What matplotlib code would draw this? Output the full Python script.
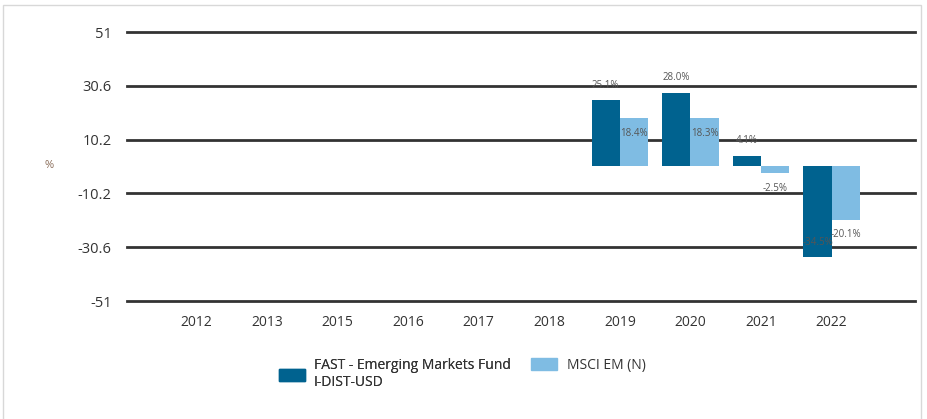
import matplotlib
matplotlib.use("Agg")
import matplotlib.pyplot as plt
from matplotlib.patches import Rectangle, Patch
import numpy as np

years = ["2012", "2013", "2015", "2016", "2017", "2018", "2019", "2020", "2021", "2022"]
fund = [np.nan, np.nan, np.nan, np.nan, np.nan, np.nan, 25.1, 28.0, 4.1, -34.5]
index = [np.nan, np.nan, np.nan, np.nan, np.nan, np.nan, 18.4, 18.3, -2.5, -20.1]
yticks = [51, 30.6, 10.2, -10.2, -30.6, -51]
fund_name = "FAST - Emerging Markets Fund\nI-DIST-USD"
index_name = "MSCI EM (N)"

dark = "#00628f"
light = "#7fbce3"

plt.rcParams["font.family"] = ["Open Sans", "DejaVu Sans"]

fig = plt.figure(figsize=(9.28, 4.19), dpi=100)
ax = fig.add_axes([127 / 928, 1 - 301 / 419, (915 - 127) / 928, (301 - 32) / 419])

x = np.arange(len(years))
w = 0.4
ax.bar(x - w / 2, fund, w, color=dark, zorder=3)
ax.bar(x + w / 2, index, w, color=light, zorder=3)

# fund labels sit above the bar end, index labels below it
for xi, v in zip(x, fund):
    if np.isnan(v):
        continue
    ax.annotate(f"{v:.1f}%", (xi - w / 2, v), xytext=(0, 11), textcoords="offset points",
                ha="center", va="center", fontsize=7, color="#555555", zorder=5)
for xi, v in zip(x, index):
    if np.isnan(v):
        continue
    ax.annotate(f"{v:.1f}%", (xi + w / 2, v), xytext=(0, -11), textcoords="offset points",
                ha="center", va="center", fontsize=7, color="#555555", zorder=5)

for t in yticks:
    ax.axhline(t, color="#333333", lw=2, zorder=2, clip_on=False)

ax.set_ylim(-51, 51)
ax.set_xlim(-0.98, 10.18)
ax.set_yticks(yticks)
ax.set_yticklabels([f"{t:g}" for t in yticks])
ax.set_xticks(x)
ax.set_xticklabels(years)
ax.tick_params(axis="y", length=0, pad=11, labelsize=10.5, colors="#333333")
ax.tick_params(axis="x", length=0, pad=10, labelsize=10, colors="#333333")
for s in ax.spines.values():
    s.set_visible(False)

fig.text(49 / 928, 1 - 165 / 419, "%", fontsize=8, color="#8a6d5a", ha="center", va="center")

leg_kw = dict(frameon=False, loc="upper left", fontsize=10, handleheight=0.9,
              borderpad=0, borderaxespad=0, labelcolor="#333333")
leg1 = fig.legend([Patch(color=dark)], [fund_name], bbox_to_anchor=(279 / 928, 1 - 358 / 419),
                  handlelength=1.9, handletextpad=0.6, **leg_kw)
fig.add_artist(leg1)
fig.legend([Patch(color=light)], [index_name], bbox_to_anchor=(531 / 928, 1 - 358 / 419),
           handlelength=1.9, handletextpad=0.7, **leg_kw)

fig.patches.append(Rectangle((3 / 928, -0.1), 918 / 928, 1.1 - 5 / 419, transform=fig.transFigure,
                             fill=False, edgecolor="#d8d8d8", lw=1))

fig.savefig("out.png", dpi=100)
